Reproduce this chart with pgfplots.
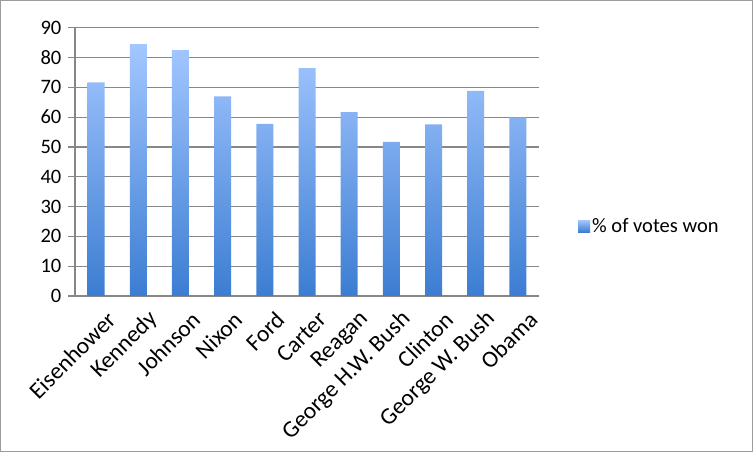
\documentclass[border=0pt]{standalone}
\usepackage{pgfplots}
\pgfplotsset{compat=1.18}
\usepackage{fontspec}
\setmainfont{Carlito}

\definecolor{barTop}{HTML}{A3C7FF}
\definecolor{barBot}{HTML}{3C7DD2}
\definecolor{axGray}{HTML}{878787}
\definecolor{frameGray}{HTML}{9C9C9C}

\begin{document}
\fontsize{20.5}{24}\selectfont
\begin{tikzpicture}
\draw[frameGray, line width=1pt] (0.5pt,0.5pt) rectangle (752.5pt,451.5pt);
\begin{axis}[
    at={(75pt,156pt)}, anchor=south west,
    scale only axis, width=464pt, height=268.3pt,
    xmin=-0.5, xmax=10.5, ymin=0, ymax=90,
    axis x line*=bottom, axis y line*=left,
    axis line style={axGray, line width=1.2pt},
    tick align=outside,
    ytick={0,10,...,90},
    ymajorgrids, grid style={axGray, line width=1.2pt},
    major tick style={axGray, line width=1.2pt},
    minor tick style={axGray, line width=1.2pt},
    major tick length=7pt, minor tick length=6pt,
    xtick={0,...,10},
    x tick style={draw=none},
    minor xtick={-0.5,0.5,...,10.5},
    xticklabels={Eisenhower,Kennedy,Johnson,Nixon,Ford,Carter,Reagan,George H.W. Bush,Clinton,George W. Bush,Obama},
    xticklabel style={rotate=45, anchor=east, inner sep=1pt, yshift=-20pt, xshift=3pt,
        font=\fontsize{23.5}{27}\selectfont},
    yticklabel style={inner sep=6.5pt, font=\fontsize{20.5}{24}\selectfont},
    /pgf/number format/assume math mode=true,
    legend style={at={(1.084,0.257)}, anchor=west, draw=none, fill=none,
        font=\fontsize{20.5}{24}\selectfont, inner sep=0pt},
    legend cell align=left,
    legend image code/.code={
        \fill[top color=barTop, bottom color=barBot] (0pt,-5pt) rectangle (12pt,7pt);
    },
]
\addplot[ybar, bar width=17pt, draw=none, top color=barTop, bottom color=barBot]
    coordinates {(0,71.7) (1,84.5) (2,82.5) (3,67.0) (4,57.7) (5,76.4)
                 (6,61.7) (7,51.7) (8,57.6) (9,68.8) (10,59.9)};
\addlegendentry{\% of votes won}
\end{axis}
\end{tikzpicture}
\end{document}
